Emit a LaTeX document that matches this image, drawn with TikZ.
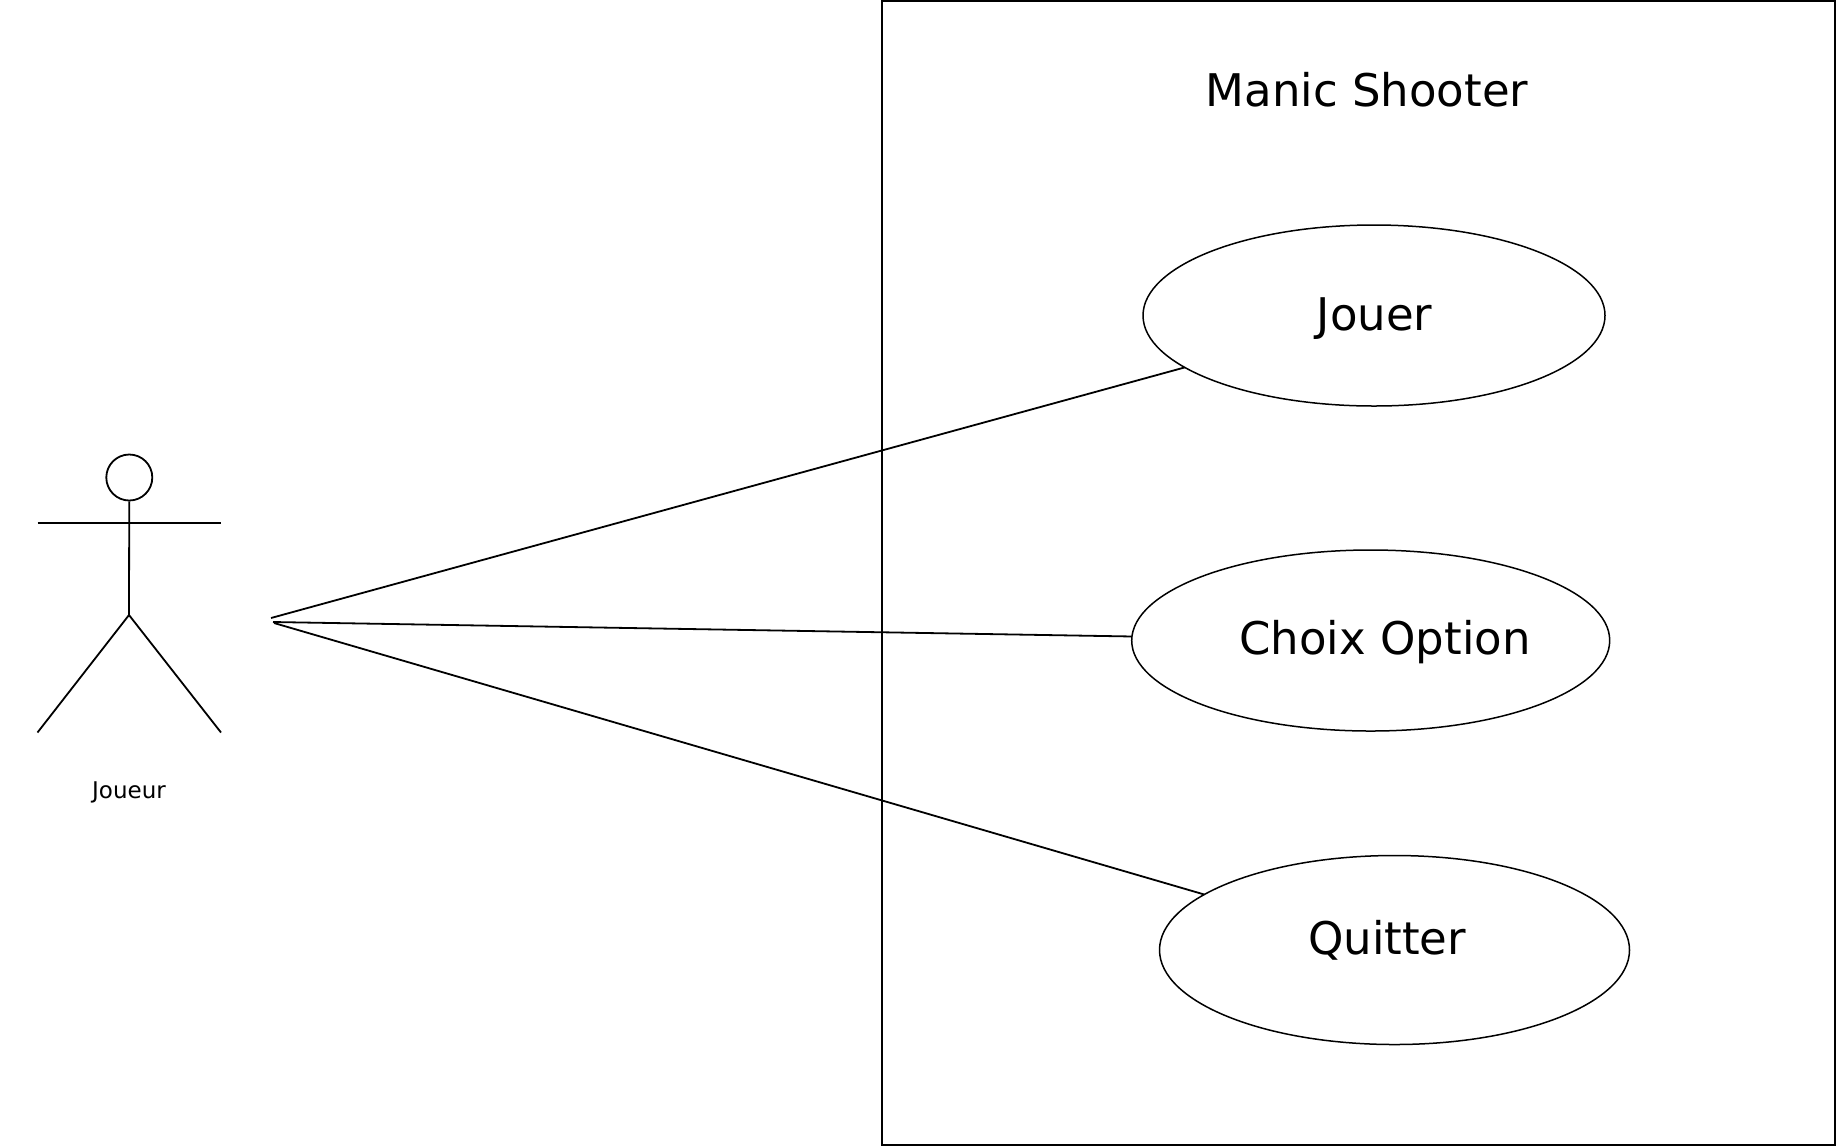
\documentclass[tikz,border=0pt]{standalone}
\usepackage{fontspec}
\setmainfont{DejaVu Sans}
\usetikzlibrary{shapes.geometric}
\tikzset{
  x=0.5pt,y=-0.5pt,
  ln/.style={draw=black,line width=0.9pt},
  usecase/.style={ellipse,draw=black,line width=0.75pt,inner sep=0pt,outer sep=0pt},
  big/.style={font=\fontsize{22.5}{26}\selectfont,inner sep=0pt},
  small/.style={font=\fontsize{11.5}{14}\selectfont,inner sep=0pt}
}
\begin{document}
\begin{tikzpicture}
\useasboundingbox (0,0) rectangle (1839,1147);
\node[draw=black,line width=1.05pt,minimum width=953.2pt*0.5,minimum height=1144pt*0.5,inner sep=0pt,anchor=north west] (sys) at (881,0) {};
\node[big,anchor=center] (title) at (1367,90) {Manic Shooter};
\node[usecase,minimum width=231pt,minimum height=90.5pt] (jouer) at (1374,315.5) {};
\node[big] (tj) at (1374.5,319) {Jouer};
\node[usecase,minimum width=239pt,minimum height=90.5pt] (choix) at (1370.7,640.5) {};
\node[big] (tc) at (1385,642.5) {Choix Option};
\node[usecase,minimum width=235pt,minimum height=94.5pt] (quit) at (1394.5,950) {};
\node[big] (tq) at (1387,940) {Quitter};
\node[circle,ln,minimum size=23pt,inner sep=0pt] (head) at (129.3,477.5) {};
\coordinate (hip) at (129,615);
\coordinate (al) at (37.5,523);
\coordinate (ar) at (221,523);
\coordinate (fl) at (37.5,732.5);
\coordinate (fr) at (221,732.5);
\draw[ln] (head) -- (hip);
\draw[ln] (al) -- (ar);
\draw[ln] (fl) -- (hip) -- (fr);
\node[small] (joueur) at (129,792) {Joueur};
\coordinate (s1) at (271,618);
\coordinate (s2) at (273,622);
\coordinate (s3) at (274,623);
\draw[ln] (s1) -- (jouer);
\draw[ln] (s2) -- (choix);
\draw[ln] (s3) -- (quit);
\end{tikzpicture}
\end{document}
